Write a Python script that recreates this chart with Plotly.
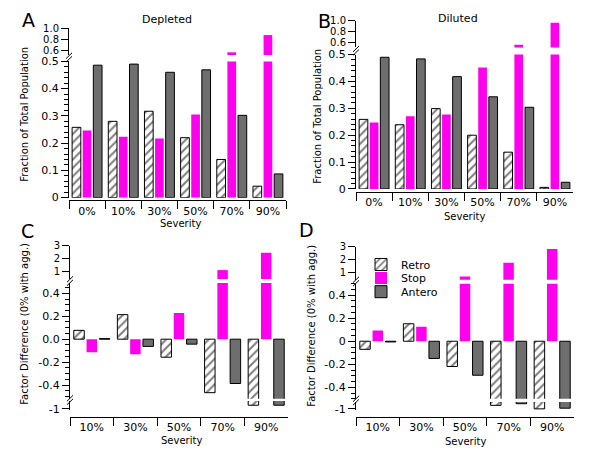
import plotly.graph_objects as go

W, H = 600, 460

severity_all = ["0%", "10%", "30%", "50%", "70%", "90%"]
severity_diff = ["10%", "30%", "50%", "70%", "90%"]

# fraction of total population, depleted (A)
dep_retro = [0.258, 0.280, 0.317, 0.220, 0.140, 0.042]
dep_stop = [0.246, 0.223, 0.217, 0.305, 0.56, 0.873]
dep_antero = [0.486, 0.490, 0.460, 0.469, 0.302, 0.087]

# fraction of total population, diluted (B)
dil_retro = [0.259, 0.239, 0.299, 0.200, 0.137, 0.006]
dil_stop = [0.247, 0.271, 0.277, 0.452, 0.558, 0.961]
dil_antero = [0.490, 0.484, 0.418, 0.343, 0.304, 0.025]

# factor difference relative to 0% (C depleted, D diluted)
dep_diff_retro = [0.077, 0.214, -0.157, -0.466, -0.955]
dep_diff_stop = [-0.114, -0.131, 0.229, 1.1, 2.45]
dep_diff_antero = [0.005, -0.063, -0.043, -0.386, -0.955]
dil_diff_retro = [-0.07, 0.152, -0.219, -0.949, -1.0]
dil_diff_stop = [0.093, 0.126, 0.66, 1.72, 2.81]
dil_diff_antero = [-0.006, -0.149, -0.295, -0.925, -0.99]

MAGENTA = "#FF00EE"
GRAY = "#6E6E6E"
FONT = "DejaVu Sans"


def fx(p):
    return p / W


def fy(p):
    return 1 - p / H


fig = go.Figure()


def add_bars(cats, retro, stop, antero, xa, yas, legend=False):
    for i, ya in enumerate(yas):
        show = legend and i == 0
        fig.add_trace(go.Bar(x=cats, y=retro, xaxis=xa, yaxis=ya, name="Retro",
                             offsetgroup="r", legend="legend", showlegend=show,
                             marker=dict(color="white", line=dict(color="black", width=1),
                                         pattern=dict(shape="/", fgcolor="black", bgcolor="white",
                                                      size=6, solidity=0.35))))
        fig.add_trace(go.Bar(x=cats, y=stop, xaxis=xa, yaxis=ya, name="Stop",
                             offsetgroup="s", legend="legend2", showlegend=show,
                             marker=dict(color=MAGENTA, line=dict(width=0))))
        fig.add_trace(go.Bar(x=cats, y=antero, xaxis=xa, yaxis=ya, name="Antero",
                             offsetgroup="a", legend="legend3", showlegend=show,
                             marker=dict(color=GRAY, line=dict(color="black", width=1))))


add_bars(severity_all, dep_retro, dep_stop, dep_antero, "x", ["y", "y2"])
add_bars(severity_all, dil_retro, dil_stop, dil_antero, "x2", ["y3", "y4"])
add_bars(severity_diff, dep_diff_retro, dep_diff_stop, dep_diff_antero, "x3", ["y5", "y6", "y7"])
add_bars(severity_diff, dil_diff_retro, dil_diff_stop, dil_diff_antero, "x4", ["y8", "y9", "y10"], legend=True)


def xaxis(x0, x1, pos, n):
    return dict(domain=[fx(x0), fx(x1)], anchor="free", position=fy(pos), type="category",
                range=[-0.5, n - 0.5], showline=True, linecolor="black", linewidth=1,
                ticks="outside", tickson="boundaries", ticklen=8, tickcolor="black",
                showgrid=False, zeroline=False, tickfont=dict(size=11, color="black"),
                fixedrange=True)


def yaxis(xa, y_bot, y_top, rng, vals, texts, minor=None, size=11):
    d = dict(domain=[fy(y_bot), fy(y_top)], anchor=xa, range=rng, showline=True,
             linecolor="black", linewidth=1, ticks="outside", ticklen=7, tickcolor="black",
             tickmode="array", tickvals=vals, ticktext=texts, showgrid=False, zeroline=False,
             tickfont=dict(size=size, color="black"), fixedrange=True)
    if minor:
        d["minor"] = dict(dtick=minor, tick0=0, ticks="outside", ticklen=4, tickcolor="black",
                          showgrid=False)
    return d


def legend_at(y):
    return dict(x=fx(361), y=fy(y), xanchor="left", yanchor="middle",
                bgcolor="rgba(0,0,0,0)", font=dict(size=11), borderwidth=0)


frac_vals = [0, 0.1, 0.2, 0.3, 0.4, 0.5]
frac_text = ["0", "0.1", "0.2", "0.3", "0.4", "0.5"]
up_vals = [0.6, 0.8, 1.0]
up_text = ["0.6", "0.8", "1.0"]
mid_vals = [-0.4, -0.2, 0, 0.2, 0.4]

layout = dict(
    width=W, height=H, margin=dict(l=0, r=0, t=0, b=0),
    paper_bgcolor="white", plot_bgcolor="white",
    barmode="group", bargap=0.12, bargroupgap=0.18,
    font=dict(family=FONT, size=11, color="black"),
    showlegend=True,
    legend=legend_at(266),
    legend2=legend_at(280),
    legend3=legend_at(294),
    xaxis=xaxis(69, 286, 200, 6),
    xaxis2=xaxis(356, 573, 191, 6),
    xaxis3=xaxis(70, 288, 423, 5),
    xaxis4=xaxis(356, 574, 423, 5),
    yaxis=yaxis("x", 197.2, 57, [0, 0.5], frac_vals, frac_text, 0.02),
    yaxis2=yaxis("x", 50.5, 22.7, [0.51, 1.0], up_vals, up_text, size=10),
    yaxis3=yaxis("x2", 188.3, 50, [0, 0.5], frac_vals, frac_text, 0.02),
    yaxis4=yaxis("x2", 42.7, 15, [0.51, 1.0], up_vals, up_text, size=10),
    yaxis5=yaxis("x3", 416, 406.5, [-1.02, -0.9], [-1], ["-1"]),
    yaxis6=yaxis("x3", 404.3, 285, [-0.52, 0.49], mid_vals,
                 ["-0.4", "-0.2", "0.0", "0.2", "0.4"], 0.05),
    yaxis7=yaxis("x3", 281, 246.7, [0.4, 3.0], [1, 2, 3], ["1", "2", "3"], size=10),
    yaxis8=yaxis("x4", 416, 407.5, [-1.02, -0.9], [-1], ["-1"]),
    yaxis9=yaxis("x4", 404.3, 285.7, [-0.5, 0.5], mid_vals,
                 ["-0.4", "-0.2", "0", "0.2", "0.4"], 0.05),
    yaxis10=yaxis("x4", 281.7, 247.5, [0.4, 3.0], [1, 2, 3], ["1", "2", "3"], size=10),
)
fig.update_layout(**layout)


def note(text, x, y, size, angle=0):
    fig.add_annotation(text=text, x=fx(x), y=fy(y), xref="paper", yref="paper",
                       showarrow=False, textangle=angle, xanchor="center", yanchor="middle",
                       font=dict(family=FONT, size=size, color="black"))


# panel letters and titles
note("A", 28, 14, 19)
note("B", 324, 15, 19)
note("C", 27, 232, 19)
note("D", 306, 230, 19)
note("Depleted", 167, 14, 11)
note("Diluted", 458, 13, 11)

# axis titles
note("Fraction of Total Population", 25, 112, 10, -90)
note("Fraction of Total Population", 318, 114, 10, -90)
note("Factor Difference (0% with agg.)", 25, 327, 10, -90)
note("Factor Difference (0% with agg.)", 312, 329, 10, -90)
note("Severity", 180, 224, 10)
note("Severity", 464, 217, 10)
note("Severity", 181, 447, 10)
note("Severity", 465, 448, 10)


# axis break marks "//"
def brk(x, y):
    for off in (-1.8, 1.8):
        fig.add_shape(type="line", xref="paper", yref="paper",
                      x0=fx(x - 3), y0=fy(y + off + 3), x1=fx(x + 3), y1=fy(y + off - 3),
                      line=dict(color="black", width=1))


brk(69, 53)
brk(356, 46)
brk(70, 283)
brk(70, 405.5)
brk(356, 283.5)
brk(356, 406)

fig.write_html("out.html", config={"displayModeBar": False},
               post_script="document.body.style.margin='0px';")
